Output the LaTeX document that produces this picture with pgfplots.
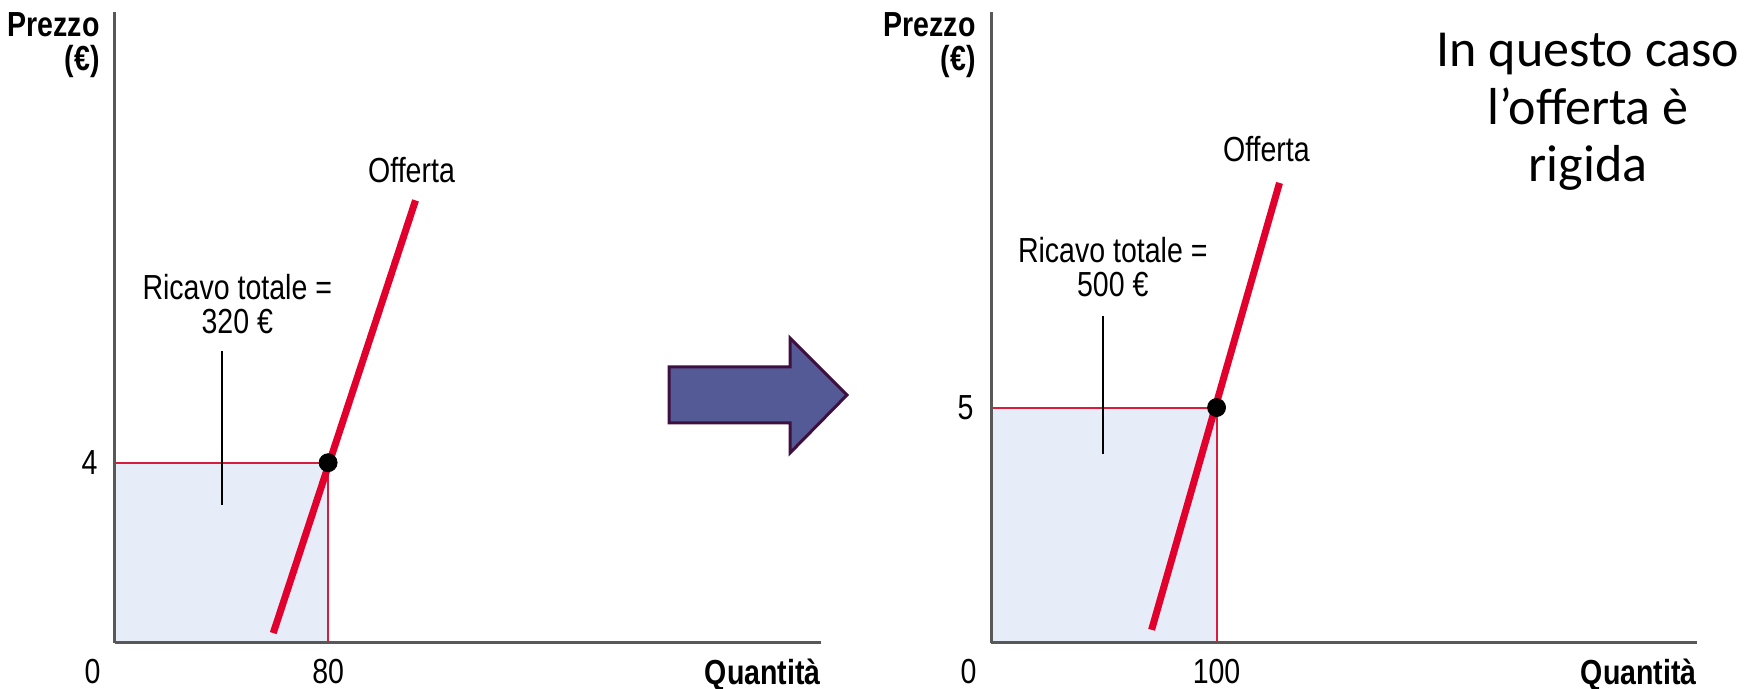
\documentclass[border=0pt]{standalone}
\usepackage{pgfplots}
\pgfplotsset{compat=1.18}
\usepackage{fontspec}
\setmainfont{Liberation Sans}[FakeStretch=0.82]
\newfontfamily\calibri{Carlito}

\definecolor{offred}{RGB}{226,0,44}
\definecolor{thinred}{RGB}{214,30,60}
\definecolor{ricavo}{RGB}{230,236,248}
\definecolor{axgray}{RGB}{88,88,88}
\definecolor{arrowfill}{RGB}{84,90,150}
\definecolor{arrowdraw}{RGB}{62,16,64}

\newcommand{\chartsize}{\fontsize{17.4}{17}\selectfont}

\pgfplotsset{
  mercato/.style={
    scale only axis,
    width=353pt, height=315.5pt,
    xmin=0, ymin=0,
    axis x line=bottom, axis y line=left,
    axis line style={-, line width=1.5pt, color=axgray},
    axis on top,
    clip=false,
    major tick length=0pt,
    font=\chartsize,
    xticklabel style={anchor=north, inner sep=0pt, yshift=-8pt},
    yticklabel style={anchor=east, inner sep=0pt, xshift=-8.5pt},
    xlabel style={at={(rel axis cs:1,0)}, anchor=north east, inner sep=0pt,
                  yshift=-8pt, font=\chartsize\bfseries},
    ylabel style={rotate=-90, at={(rel axis cs:0,1)}, anchor=north east,
                  align=right, inner sep=0pt, xshift=-7.5pt, font=\chartsize\bfseries},
    xlabel={Quantità},
    ylabel={Prezzo\\(€)},
  }
}

\begin{document}
\begin{tikzpicture}[x=0.5pt, y=0.5pt]
\useasboundingbox (0,0) rectangle (1752,689);

% --- prima situazione
\begin{axis}[mercato, at={(57.5pt,23pt)}, anchor=south west,
  xmax=265, ymax=14,
  xtick={80}, xticklabels={80},
  ytick={4}, yticklabels={4}]
  \addplot[fill=ricavo, draw=none] coordinates {(0,0) (0,4) (80,4) (80,0)} --cycle;
  \addplot[thinred, line width=1pt] coordinates {(0,4) (80,4) (80,0)};
  \addplot[black, line width=0.8pt] coordinates {(40.2,3.07) (40.2,6.47)};
  \addplot[offred, line width=3.5pt] coordinates {(59.4,0.22) (112.8,9.82)};
  \addplot[only marks, mark=*, mark size=4.5pt, black] coordinates {(80,4)};
  \node[align=center] at (axis cs:45.9,7.53) {Ricavo totale =\\320 €};
  \node at (axis cs:111.3,10.5) {Offerta};
  \node[anchor=north east, inner sep=0pt] at ([xshift=-7pt,yshift=-8pt]axis cs:0,0) {0};
\end{axis}

% --- seconda situazione
\begin{axis}[mercato, at={(495.5pt,23pt)}, anchor=south west,
  xmax=313, ymax=13.4,
  xtick={100}, xticklabels={100},
  ytick={5}, yticklabels={5}]
  \addplot[fill=ricavo, draw=none] coordinates {(0,0) (0,5) (100,5) (100,0)} --cycle;
  \addplot[thinred, line width=1pt] coordinates {(0,5) (100,5) (100,0)};
  \addplot[black, line width=0.8pt] coordinates {(49.6,4.02) (49.6,6.94)};
  \addplot[offred, line width=3.5pt] coordinates {(71.2,0.28) (127.9,9.77)};
  \addplot[only marks, mark=*, mark size=4.5pt, black] coordinates {(100,5)};
  \node[align=center] at (axis cs:54,7.98) {Ricavo totale =\\500 €};
  \node at (axis cs:122.1,10.49) {Offerta};
  \node[anchor=north east, inner sep=0pt] at ([xshift=-7pt,yshift=-8pt]axis cs:0,0) {0};
\end{axis}

% freccia
\filldraw[fill=arrowfill, draw=arrowdraw, line width=1.5pt, line join=miter]
  (669,322) -- (790,322) -- (790,351) -- (847,294) -- (790,236) -- (790,266) -- (669,266) -- cycle;

\node[align=center, font=\calibri\fontsize{26}{28.75}\selectfont] at (1588,577)
  {In questo caso\\l’offerta è\\rigida};
\end{tikzpicture}
\end{document}
